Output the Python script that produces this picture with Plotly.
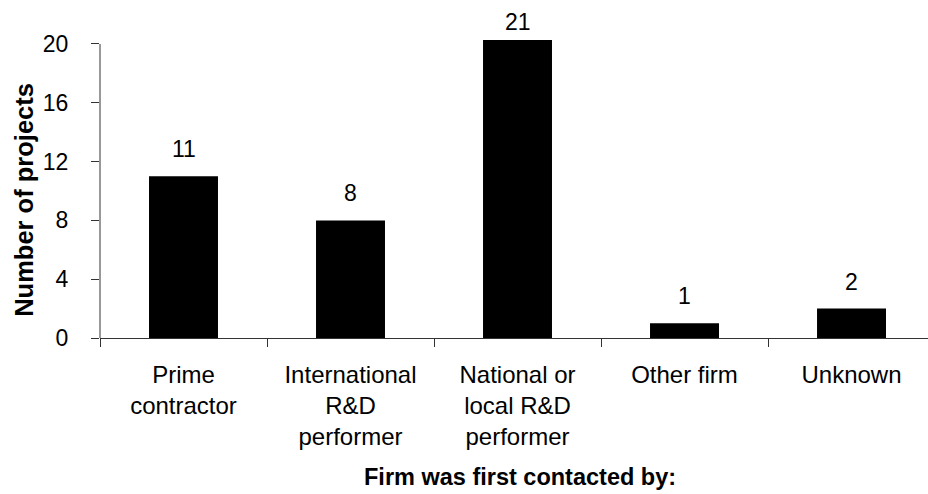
import plotly.graph_objects as go

# Survey results: who first contacted the firm
categories = ["Prime<br>contractor", "International<br>R&D<br>performer",
              "National or<br>local R&D<br>performer", "Other firm", "Unknown"]
projects = [11, 8, 21, 1, 2]
y_ticks = [0, 4, 8, 12, 16, 20]

Y_TOP = 20.27  # plot area top; taller bars are cut off here
FONT = "Liberation Sans, Arial, sans-serif"

fig = go.Figure(
    go.Bar(
        x=categories,
        y=projects,
        width=0.413,
        marker=dict(color="black", line=dict(width=0)),
        hoverinfo="x+y",
    )
)

# value labels above each bar (clipped bars get their label at the plot top)
for cat, v in zip(categories, projects):
    clipped = v > Y_TOP
    fig.add_annotation(
        x=cat, y=min(v, Y_TOP), text=str(v), showarrow=False,
        xref="x", yref="y", yanchor="middle",
        yshift=18 if clipped else 27,
        font=dict(family=FONT, size=23, color="black"),
    )

# axis titles
fig.add_annotation(
    text="<b>Firm was first contacted by:</b>", showarrow=False,
    xref="paper", yref="paper", x=0.507, y=-0.468,
    xanchor="center", yanchor="middle", borderpad=0,
    font=dict(family=FONT, size=23.5, color="black"),
)
fig.add_annotation(
    text="<b>Number of projects</b>", showarrow=False, textangle=-90,
    xref="paper", yref="paper", x=-0.092, y=0.463,
    xanchor="center", yanchor="middle",
    font=dict(family=FONT, size=25.5, color="black"),
)

# value axis line running from 0 to 20 only
fig.add_shape(type="line", xref="paper", yref="y", x0=0, x1=0, y0=0, y1=20,
              line=dict(color="#333333", width=1))

fig.update_layout(
    width=928, height=494,
    margin=dict(l=100, r=0, t=40, b=156),
    plot_bgcolor="white", paper_bgcolor="white",
    showlegend=False,
    font=dict(family=FONT, size=23, color="black"),
    xaxis=dict(
        type="category",
        range=[-0.5, 4.458],
        showline=True, linecolor="#333333", linewidth=1,
        ticks="outside", ticklen=8, tickcolor="#333333", tickson="boundaries",
        showgrid=False, zeroline=False,
        tickfont=dict(family=FONT, size=24, color="black"),
        ticklabelstandoff=15,
        automargin=False,
    ),
    yaxis=dict(
        range=[0, Y_TOP],
        tickvals=y_ticks,
        showline=False,
        ticks="outside", ticklen=8, tickcolor="#333333",
        showgrid=False, zeroline=False,
        tickfont=dict(family=FONT, size=23, color="black"),
        ticklabelstandoff=18,
        automargin=False,
    ),
)

fig.write_html("out.html")
